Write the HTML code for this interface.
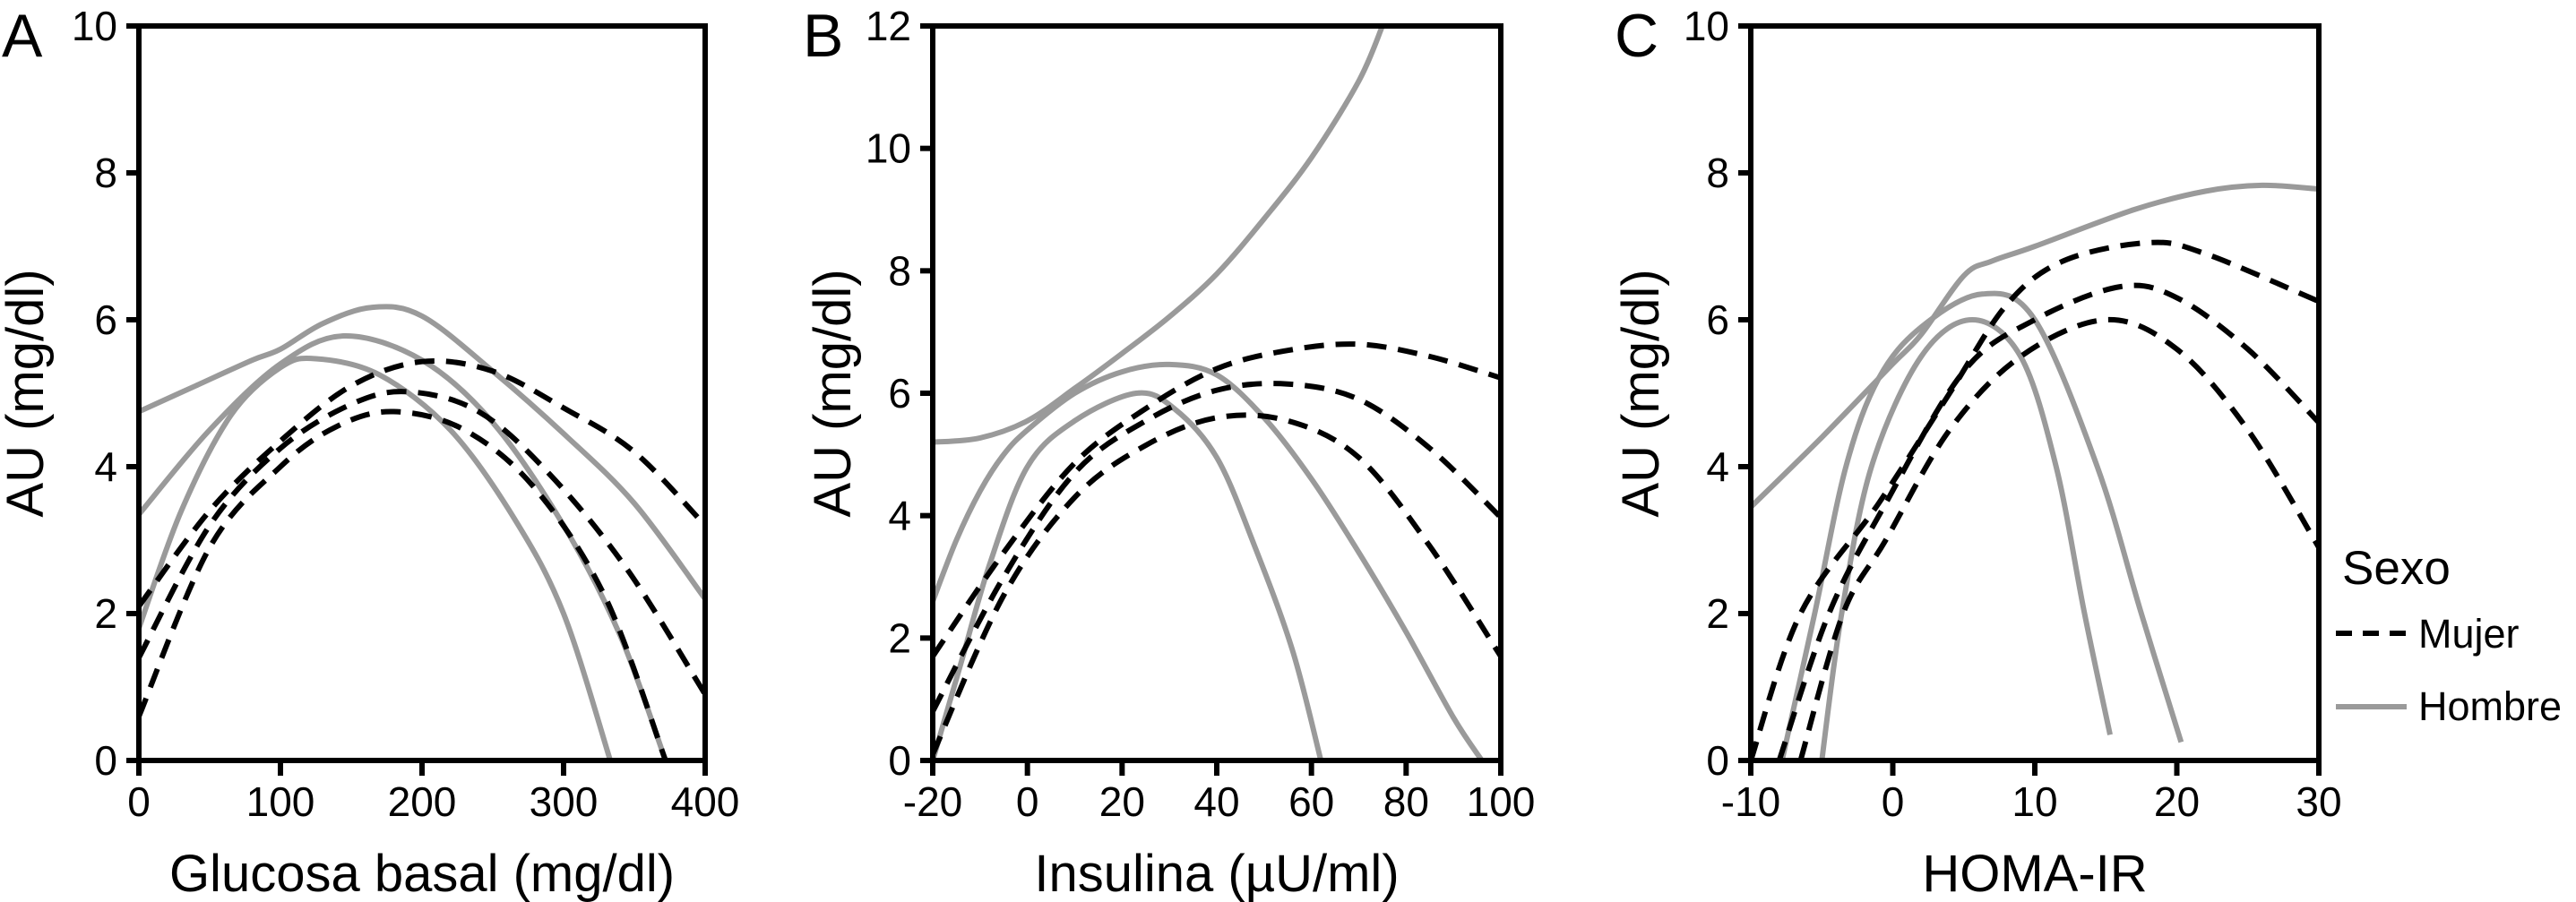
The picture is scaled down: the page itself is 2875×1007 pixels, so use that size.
<!DOCTYPE html>
<html><head><meta charset="utf-8"><style>
html,body{margin:0;padding:0;background:#fff;}
svg{display:block;font-family:"Liberation Sans",Arial,sans-serif;}
</style></head><body>
<svg id="fig" width="2875" height="1007" viewBox="0 0 2875 1007" xmlns="http://www.w3.org/2000/svg"></svg>
<script>
// Panel A data (Glucosa basal)
const aHombre1 = [[0,4.75],[40,5.1],[80,5.45],[100,5.6],[130,5.95],[165,6.17],[200,6.05],[250,5.3],[300,4.45],[350,3.5],[400,2.2]];
const aHombre2 = [[0,3.35],[50,4.5],[100,5.4],[145,5.78],[200,5.45],[250,4.6],[300,3.2],[340,1.7],[372,0]];
const aHombre3 = [[0,1.8],[30,3.4],[65,4.7],[100,5.35],[125,5.47],[170,5.25],[220,4.5],[265,3.3],[300,2.0],[333,0]];
const aMujer1 = [[0,2.1],[50,3.4],[100,4.35],[150,5.1],[200,5.43],[250,5.3],[300,4.8],[350,4.2],[400,3.2]];
const aMujer2 = [[0,1.4],[50,3.2],[100,4.25],[150,4.85],[190,5.02],[240,4.75],[290,3.9],[345,2.6],[400,0.9]];
const aMujer3 = [[0,0.6],[50,2.9],[100,4.0],[140,4.55],[180,4.75],[230,4.5],[280,3.7],[330,2.2],[372,0]];
// Panel B data (Insulina)
const bHombre1 = [[-20,5.2],[-10,5.27],[0,5.55],[10,6.08],[20,6.65],[30,7.25],[40,7.95],[50,8.85],[60,9.85],[70,11.1],[75,12.0]];
const bHombre2 = [[-20,2.6],[-15,3.6],[-10,4.4],[-5,5.0],[0,5.4],[10,6.0],[20,6.35],[30,6.47],[40,6.3],[50,5.6],[60,4.6],[70,3.4],[80,2.1],[90,0.7],[96,0]];
const bHombre3 = [[-20,0],[-14,1.6],[-8,3.2],[0,4.8],[10,5.55],[23,6.0],[31,5.75],[40,4.95],[48,3.5],[56,1.8],[62,0]];
const bMujer1 = [[-20,1.7],[-5,3.4],[10,4.86],[25,5.75],[40,6.4],[55,6.7],[70,6.8],[85,6.6],[100,6.25]];
const bMujer2 = [[-20,0.8],[-5,3.0],[10,4.7],[25,5.55],[40,6.05],[55,6.15],[70,5.9],[85,5.1],[100,3.97]];
const bMujer3 = [[-20,0.1],[-5,2.7],[10,4.3],[25,5.15],[40,5.6],[55,5.55],[70,4.95],[85,3.5],[100,1.7]];
// Panel C data (HOMA-IR)
const cHombre1 = [[-10,3.45],[-5,4.4],[0,5.4],[2,5.8],[5,6.6],[7,6.8],[10,7.0],[17,7.5],[22,7.75],[26,7.83],[30,7.78]];
const cHombre2 = [[-7.8,0],[-5.5,2.0],[-3.3,4.0],[-1,5.2],[2,5.9],[6.3,6.35],[10,6.0],[14.4,4.0],[17.5,2.0],[20.3,0.25]];
const cHombre3 = [[-5,0],[-3.6,2.0],[-1.5,4.0],[2,5.5],[5.6,6.0],[9,5.5],[11.5,4.0],[13.5,2.0],[15.3,0.35]];
const cMujer1 = [[-10,0],[-6.5,2.0],[-1,3.5],[4,5.0],[8,6.2],[12,6.8],[18,7.05],[22,6.9],[30,6.25]];
const cMujer2 = [[-8,0],[-4.5,2.0],[-0.5,3.5],[5,5.3],[10,6.0],[16,6.45],[20,6.3],[25,5.6],[30,4.6]];
const cMujer3 = [[-6.5,0],[-3.5,2.0],[-0.5,3.0],[4,4.5],[9,5.5],[15,6.0],[20,5.6],[25,4.5],[30,2.9]];

const xTicksA = [0,100,200,300,400];
const yTicksA = [0,2,4,6,8,10];
const xTicksB = [-20,0,20,40,60,80,100];
const yTicksB = [0,2,4,6,8,10,12];
const xTicksC = [-10,0,10,20,30];
const yTicksC = [0,2,4,6,8,10];

const NS='http://www.w3.org/2000/svg';
const svg=document.getElementById('fig');
function mk(tag,attrs,parent){const e=document.createElementNS(NS,tag);for(const k in attrs)e.setAttribute(k,attrs[k]);(parent||svg).appendChild(e);return e;}

function smoothPath(pts){
  let d='M'+pts[0][0].toFixed(1)+','+pts[0][1].toFixed(1);
  for(let i=0;i<pts.length-1;i++){
    const p0=pts[i-1]||pts[i],p1=pts[i],p2=pts[i+1],p3=pts[i+2]||p2;
    const c1=[p1[0]+(p2[0]-p0[0])/6,p1[1]+(p2[1]-p0[1])/6];
    const c2=[p2[0]-(p3[0]-p1[0])/6,p2[1]-(p3[1]-p1[1])/6];
    d+=' C'+c1[0].toFixed(1)+','+c1[1].toFixed(1)+' '+c2[0].toFixed(1)+','+c2[1].toFixed(1)+' '+p2[0].toFixed(1)+','+p2[1].toFixed(1);
  }
  return d;
}

function panel(cfg){
  const g=mk('g',{});
  
  
  const L=cfg.left,R=cfg.right,T=29,B=849;
  const xs=v=>L+(v-cfg.xmin)/(cfg.xmax-cfg.xmin)*(R-L);
  const ys=v=>B-(v-cfg.ymin)/(cfg.ymax-cfg.ymin)*(B-T);
  const clip=mk('clipPath',{id:'clip'+cfg.id},g);
  mk('rect',{x:L,y:T,width:R-L,height:B-T},clip);
  const cg=mk('g',{'clip-path':'url(#clip'+cfg.id+')'},g);
  cfg.gray.forEach((s,i)=>{
    const p=mk('path',{d:smoothPath(s.map(q=>[xs(q[0]),ys(q[1])])),fill:'none',stroke:'#9a9a9a','stroke-width':6},cg);
    
    
  });
  cfg.dash.forEach((s,i)=>{
    const p=mk('path',{d:smoothPath(s.map(q=>[xs(q[0]),ys(q[1])])),fill:'none',stroke:'#000','stroke-width':6,'stroke-dasharray':'22 13'},cg);
    
    
  });
  const frame=mk('rect',{x:L,y:T,width:R-L,height:B-T,fill:'none',stroke:'#000','stroke-width':6},g);
  
  
  cfg.xt.forEach(v=>{
    const x=xs(v);
    mk('line',{x1:x,y1:B,x2:x,y2:B+17,stroke:'#000','stroke-width':6},g);
    const t=mk('text',{x:x,y:911,'font-size':46,'text-anchor':'middle',fill:'#000'},g);
    t.textContent=v;
    
    
  });
  cfg.yt.forEach(v=>{
    const y=ys(v);
    mk('line',{x1:L-14,y1:y,x2:L,y2:y,stroke:'#000','stroke-width':6},g);
    const t=mk('text',{x:L-24,y:y+16,'font-size':46,'text-anchor':'end',fill:'#000'},g);
    t.textContent=v;
    
    
  });
  const xt=mk('text',{x:(L+R)/2,y:995,'font-size':58,'text-anchor':'middle',fill:'#000'},g);
  xt.textContent=cfg.xtitle;
  
  
  const yx=L-cfg.ytoff;
  const yt=mk('text',{x:yx,y:439,'font-size':58,'text-anchor':'middle',fill:'#000',transform:'rotate(-90 '+yx+' 439) translate(0 20)'},g);
  yt.textContent='AU (mg/dl)';
  
  
  const lt=mk('text',{x:cfg.lx,y:63,'font-size':68,fill:'#000'},g);
  lt.textContent=cfg.id;
  
  
}

panel({id:'A',left:155,right:787,xmin:0,xmax:400,ymin:0,ymax:10,xt:xTicksA,yt:yTicksA,
  gray:[aHombre1,aHombre2,aHombre3],dash:[aMujer1,aMujer2,aMujer3],xtitle:'Glucosa basal (mg/dl)',ytoff:127,lx:2});
panel({id:'B',left:1041,right:1675,xmin:-20,xmax:100,ymin:0,ymax:12,xt:xTicksB,yt:yTicksB,
  gray:[bHombre1,bHombre2,bHombre3],dash:[bMujer1,bMujer2,bMujer3],xtitle:'Insulina (\u00b5U/ml)',ytoff:112,lx:896});
panel({id:'C',left:1954,right:2588,xmin:-10,xmax:30,ymin:0,ymax:10,xt:xTicksC,yt:yTicksC,
  gray:[cHombre1,cHombre2,cHombre3],dash:[cMujer1,cMujer2,cMujer3],xtitle:'HOMA-IR',ytoff:123,lx:1802});

// Legend
const lg=mk('g',{});


const lt=mk('text',{x:2614,y:652,'font-size':53,fill:'#000'},lg);
lt.textContent='Sexo';


const l1=mk('line',{x1:2607,y1:707,x2:2686,y2:707,stroke:'#000','stroke-width':6,'stroke-dasharray':'18 12'},lg);


const t1=mk('text',{x:2699,y:723,'font-size':45,fill:'#000'},lg);
t1.textContent='Mujer';


const l2=mk('line',{x1:2607,y1:789,x2:2686,y2:789,stroke:'#9a9a9a','stroke-width':6},lg);


const t2=mk('text',{x:2699,y:804,'font-size':45,fill:'#000'},lg);
t2.textContent='Hombre';


</script>
</body></html>
